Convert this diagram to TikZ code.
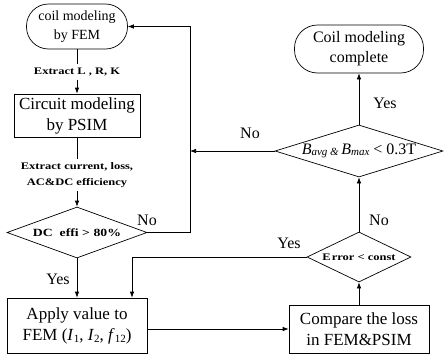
\documentclass[tikz,border=0pt]{standalone}
\usepackage{fontspec}
\setmainfont{Liberation Serif}
\newfontfamily\lblfont[FakeStretch=1.25]{Liberation Serif}
\usetikzlibrary{arrows.meta,shapes.geometric}
\newcommand\lowsub[1]{\raisebox{-2.5pt}{\fontsize{11}{11}\selectfont #1}}
\newcommand\smallit[1]{\raisebox{-1.5pt}{\fontsize{11}{11}\selectfont\itshape #1}}
\begin{document}
\begin{tikzpicture}[x=1pt,y=-1pt,
  line width=0.7pt,
  box/.style={draw, rectangle, inner sep=0pt, align=center, font=\fontsize{17}{21}\selectfont},
  rbox/.style={draw, rectangle, rounded corners=22pt, inner sep=0pt, align=center},
  dia/.style={draw, diamond, inner sep=0pt},
  lbl/.style={font=\lblfont\bfseries\fontsize{10}{16}\selectfont, align=center},
  yn/.style={font=\fontsize{16}{16}\selectfont, inner sep=0pt},
  arr/.style={-{Latex[length=6pt,width=4.5pt]}}
]
\useasboundingbox (0,0) rectangle (444,359);

\node[rbox, minimum width=101pt, minimum height=45pt, font=\fontsize{14}{18.5}\selectfont] (coil) at (77,26.5) {coil modeling\\by FEM};
\node[lbl] (l1) at (77,72) {Extract L , R, K};
\node[box, minimum width=126pt, minimum height=43pt] (circ) at (77,115.5) {Circuit modeling\\by PSIM};
\node[lbl] (l2) at (77,175) {Extract current, loss,\\AC\&DC efficiency};
\node[dia, minimum width=140pt, minimum height=51pt] (dc) at (77,232.5) {};
\node[lbl, font=\lblfont\bfseries\fontsize{11}{11}\selectfont] (dct) at (dc) {DC\ \ effi > 80\%};
\node[box, minimum width=140pt, minimum height=55pt] (apply) at (77,325.5) {Apply value to\\FEM (\textit{I}\lowsub{1}, \textit{I}\lowsub{2}, \textit{f}\lowsub{12})};

\node[rbox, rounded corners=23pt, minimum width=129pt, minimum height=48pt, font=\fontsize{16}{20}\selectfont] (done) at (359,49) {Coil modeling\\complete};
\node[dia, minimum width=168pt, minimum height=52pt] (bq) at (359,151) {};
\node[font=\fontsize{16}{16}\selectfont] (bqt) at (bq) {\textit{B}\smallit{avg}\,\smallit{\&}\,\textit{B}\smallit{max} < 0.3T};
\node[dia, minimum width=104pt, minimum height=50pt] (err) at (359,257) {};
\node[lbl] (errt) at (err) {E\kern1pt rror < const};
\node[box, minimum width=140pt, minimum height=48pt] (cmp) at (359,329) {Compare the loss\\in FEM\&PSIM};

\node[yn] (no1) at (147,220) {No};
\node[yn] (no2) at (250,133) {No};
\node[yn] (yes1) at (58,279) {Yes};
\node[yn] (yes2) at (289,243) {Yes};
\node[yn] (no3) at (379,220) {No};
\node[yn] (yes3) at (385,103) {Yes};

\coordinate (fb) at (190,232.5);
\coordinate (ya) at (132,257);

\draw (coil.south) -- (l1.north);
\draw[arr] (l1.south) -- (circ.north);
\draw (circ.south) -- (l2.north);
\draw[arr] (l2.south) -- (dc.north);
\draw[arr] (dc.east) -- (fb) |- (coil.east);
\draw[arr] (bq.west) -- (bq.west -| fb);
\draw[arr] (dc.south) -- (apply.north);
\draw[arr] (err.west) -- (ya) -- (ya |- apply.north);
\draw[arr] (apply.east |- cmp.west) -- (cmp.west);
\draw[arr] (cmp.north) -- (err.south);
\draw[arr] (err.north) -- (bq.south);
\draw[arr] (bq.north) -- (done.south);
\end{tikzpicture}
\end{document}
